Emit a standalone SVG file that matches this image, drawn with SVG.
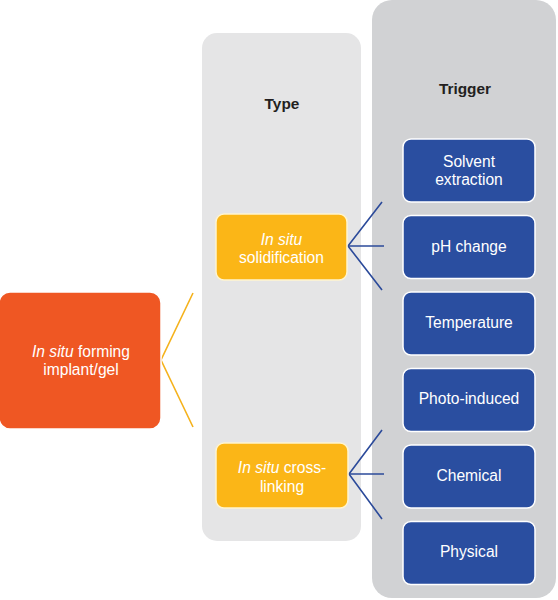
<svg xmlns="http://www.w3.org/2000/svg" width="558" height="600" viewBox="0 0 558 600">
<style>
.lbl{font-family:"Liberation Sans",Arial,sans-serif;font-size:15.6px;fill:#fff;text-anchor:middle}
.hdr{font-family:"Liberation Sans",Arial,sans-serif;font-size:15.4px;font-weight:bold;fill:#231f20;text-anchor:middle}
.blue{fill:#2a4ea0;stroke:#fff;stroke-width:1.5}
.yel{fill:#fbb617;stroke:#fff5d0;stroke-width:1.5}
.yl{stroke:#f5b21c;stroke-width:1.6;fill:none}
.bl{stroke:#2b4a9a;stroke-width:1.6;fill:none}
</style>
<rect width="558" height="600" fill="#fff"/>
<g id="col-type">
<rect x="202" y="33" width="159" height="508" rx="15" fill="#e5e5e6"/>
<text class="hdr" x="282" y="109">Type</text>
</g>
<g id="col-trigger">
<rect x="372" y="0" width="184" height="598" rx="20" fill="#d1d2d4"/>
<text class="hdr" x="465" y="94">Trigger</text>
</g>
<g id="connectors">
<polyline class="yl" points="193,293 161,360 193,427"/>
<polyline class="bl" points="382,202 348,246 382,290"/>
<line class="bl" x1="348" y1="246" x2="384" y2="246"/>
<polyline class="bl" points="382,430 349,474 382,519"/>
<line class="bl" x1="349" y1="474" x2="384" y2="474"/>
</g>
<g id="root">
<rect x="-1" y="292" width="162" height="137" rx="11" fill="#ef5723" stroke="#fff" stroke-width="1.5"/>
<text class="lbl" x="81" y="357"><tspan font-style="italic">In situ</tspan> forming</text>
<text class="lbl" x="81" y="375">implant/gel</text>
</g>
<g id="type-solidification">
<rect class="yel" x="216" y="214" width="131" height="66" rx="8"/>
<text class="lbl" x="281.5" y="245" font-style="italic">In situ</text>
<text class="lbl" x="281.5" y="263">solidification</text>
</g>
<g id="type-crosslinking">
<rect class="yel" x="216" y="443" width="132" height="65" rx="8"/>
<text class="lbl" x="282" y="473"><tspan font-style="italic">In situ</tspan> cross-</text>
<text class="lbl" x="282" y="492">linking</text>
</g>
<g id="trig-solvent">
<rect class="blue" x="403" y="139" width="132" height="63" rx="8"/>
<text class="lbl" x="469" y="167">Solvent</text>
<text class="lbl" x="469" y="185">extraction</text>
</g>
<g id="trig-ph">
<rect class="blue" x="403" y="215.5" width="132" height="63" rx="8"/>
<text class="lbl" x="469" y="252">pH change</text>
</g>
<g id="trig-temperature">
<rect class="blue" x="403" y="292" width="132" height="63" rx="8"/>
<text class="lbl" x="469" y="328">Temperature</text>
</g>
<g id="trig-photo">
<rect class="blue" x="403" y="368.5" width="132" height="63" rx="8"/>
<text class="lbl" x="469" y="404">Photo-induced</text>
</g>
<g id="trig-chemical">
<rect class="blue" x="403" y="445" width="132" height="63" rx="8"/>
<text class="lbl" x="469" y="481">Chemical</text>
</g>
<g id="trig-physical">
<rect class="blue" x="403" y="521.5" width="132" height="63" rx="8"/>
<text class="lbl" x="469" y="557">Physical</text>
</g>
</svg>
